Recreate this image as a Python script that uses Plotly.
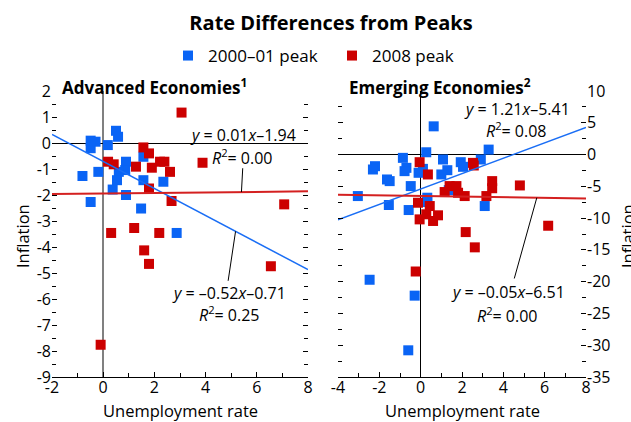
import numpy as np
import plotly.graph_objects as go

# ---------------- data ----------------
adv_2000_x = [-0.49, -0.30, -0.49, 0.18, 0.50, 0.58, -0.81, -0.19, 0.89, 0.86, 0.61, 0.54,
              0.37, 0.89, 1.57, 1.57, 2.35, -0.49, 1.48, 2.87]
adv_2000_y = [0.09, 0.05, -0.20, -0.08, 0.47, 0.24, -1.27, -1.11, -0.72, -1.04, -1.11, -1.43,
              -1.79, -2.00, -0.53, -1.43, -1.49, -2.27, -2.52, -3.46]
adv_2008_x = [1.57, 1.79, 0.19, 0.41, 1.28, 1.90, 2.22, 2.39, 2.61, 1.79, 2.67, 3.06, 3.88,
              7.07, 0.31, 1.21, 2.19, 1.60, 1.79, 6.55, -0.10]
adv_2008_y = [-0.17, -0.40, -0.72, -0.82, -0.91, -0.95, -0.72, -0.72, -1.11, -1.75, -2.23, 1.17,
              -0.76, -2.36, -3.46, -3.27, -3.46, -4.13, -4.65, -4.74, -7.76]

emg_2000_x = [0.27, 3.29, -0.86, 1.08, 1.94, 2.91, -0.69, -0.78, 0.11, -0.10, 1.29, 2.05, 1.00,
              -0.48, 1.36, 0.32, 0.32, 3.10, -0.58, -2.21, -2.31, -1.63, -1.50, -3.04, -1.54,
              0.63, -2.47, -0.29, -0.60]
emg_2000_y = [0.36, 0.78, -0.52, -0.78, -1.20, -0.78, -2.09, -2.61, -2.25, -2.87, -2.46, -1.93,
              -3.13, -4.96, -5.60, -6.79, -7.47, -8.10, -8.73, -1.83, -2.35, -3.92, -4.18,
              -6.53, -7.94, 4.44, -19.70, -22.20, -30.80]
emg_2008_x = [-0.05, 2.53, 2.57, 0.35, 3.46, 3.46, 4.80, 1.40, 1.73, 1.16, 1.81, 2.13, 3.18,
              -0.13, 0.44, 0.27, 0.84, -0.05, 0.60, 6.17, 2.18, 2.62, -0.24]
emg_2008_y = [-1.20, -1.31, -1.72, -3.13, -4.18, -5.30, -4.86, -4.96, -4.96, -5.90, -6.01,
              -6.53, -6.53, -7.58, -8.10, -9.40, -9.56, -10.20, -10.45, -11.20, -12.20,
              -14.60, -18.40]

# regression fits shown on chart: (slope, intercept, R2)
adv_fit_2000 = (-0.52, -0.71, 0.25)
adv_fit_2008 = (0.01, -1.94, 0.00)
emg_fit_2000 = (1.21, -5.41, 0.08)
emg_fit_2008 = (-0.05, -6.51, 0.00)

adv_xrange = [-2, 8]
adv_yrange = [-9, 2]
emg_xrange = [-4, 8]
emg_yrange = [-35, 10]

adv_xticks = [-2, 0, 2, 4, 6, 8]
adv_yticks = list(range(-9, 3))
emg_xticks = [-4, -2, 0, 2, 4, 6, 8]
emg_yticks = list(range(-35, 11, 5))

BLUE = "#0a64f5"
RED = "#cc0000"
FONT = "Open Sans"

W, H = 631, 422
ML, MR, MT, MB = 52, 45, 91, 45
PW = W - ML - MR
PH = H - MT - MB


def px_x(p):
    return (p - ML) / PW


def px_y(p):
    return 1 - (p - MT) / PH


def lab(v):
    return str(v).replace("−", "-")


fig = go.Figure()

# scatter points
fig.add_trace(go.Scatter(x=adv_2000_x, y=adv_2000_y, mode="markers", name="2000–01 peak",
                         legendgroup="a", marker=dict(symbol="square", size=10, color=BLUE),
                         xaxis="x", yaxis="y"))
fig.add_trace(go.Scatter(x=adv_2008_x, y=adv_2008_y, mode="markers", name="2008 peak",
                         legendgroup="b", marker=dict(symbol="square", size=10, color=RED),
                         xaxis="x", yaxis="y"))
fig.add_trace(go.Scatter(x=emg_2000_x, y=emg_2000_y, mode="markers", name="2000–01 peak",
                         legendgroup="a", showlegend=False,
                         marker=dict(symbol="square", size=10, color=BLUE),
                         xaxis="x2", yaxis="y2"))
fig.add_trace(go.Scatter(x=emg_2008_x, y=emg_2008_y, mode="markers", name="2008 peak",
                         legendgroup="b", showlegend=False,
                         marker=dict(symbol="square", size=10, color=RED),
                         xaxis="x2", yaxis="y2"))


def fit_line(fit, xr, color, xa, ya, width):
    xs = np.array(xr, dtype=float)
    ys = fit[0] * xs + fit[1]
    fig.add_trace(go.Scatter(x=xs, y=ys, mode="lines", showlegend=False, hoverinfo="skip",
                             line=dict(color=color, width=width), xaxis=xa, yaxis=ya))


fit_line(adv_fit_2000, adv_xrange, "#1a6ef5", "x", "y", 1.5)
fit_line(adv_fit_2008, adv_xrange, "#d42020", "x", "y", 2)
fit_line(emg_fit_2000, emg_xrange, "#1a6ef5", "x2", "y2", 1.5)
fit_line(emg_fit_2008, emg_xrange, "#d42020", "x2", "y2", 2)


def eq_text(fit):
    s = f"{fit[0]:.2f}".replace("-", "–")
    b = f"{fit[1]:.2f}".replace("-", "–")
    return f"<i>y</i> = {s}<i>x</i>{b}"


def r2_text(fit):
    return f"<i>R</i><sup>2</sup>= {fit[2]:.2f}"


ann_font = dict(family=FONT, size=16, color="black")
annotations = []


def add_label(fit, xa, ya, xc, y_eq, y_r2):
    annotations.append(dict(text=eq_text(fit), x=xc, y=y_eq, xref=xa, yref=ya,
                            showarrow=False, font=ann_font, xanchor="center", yanchor="middle"))
    annotations.append(dict(text=r2_text(fit), x=xc, y=y_r2, xref=xa, yref=ya,
                            showarrow=False, font=ann_font, xanchor="center", yanchor="middle"))


add_label(adv_fit_2008, "x", "y", 5.45, 0.31, -0.54)
add_label(adv_fit_2000, "x", "y", 4.93, -5.75, -6.56)
add_label(emg_fit_2000, "x2", "y2", 4.65, 7.2, 3.9)
add_label(emg_fit_2008, "x2", "y2", 4.21, -21.6, -25.2)

shapes = []


def leader(fit, xa, ya, x_on, x_end, y_end):
    shapes.append(dict(type="line", xref=xa, yref=ya, x0=x_on, y0=fit[0] * x_on + fit[1],
                       x1=x_end, y1=y_end, line=dict(color="black", width=1)))


leader(adv_fit_2008, "x", "y", 5.40, 5.45, -0.97)
leader(adv_fit_2000, "x", "y", 5.17, 4.88, -5.30)
leader(emg_fit_2008, "x2", "y2", 5.62, 4.53, -19.5)

# panel titles
title_font = dict(family=FONT, size=17, color="black")
annotations.append(dict(text="<b>Advanced Economies<sup>1</sup></b>", x=px_x(60), y=px_y(86),
                        xref="paper", yref="paper", xanchor="left", yanchor="middle",
                        showarrow=False, font=title_font))
annotations.append(dict(text="<b>Emerging Economies<sup>2</sup></b>", x=px_x(347), y=px_y(86),
                        xref="paper", yref="paper", xanchor="left", yanchor="middle",
                        showarrow=False, font=title_font))
# y-axis titles
axis_font = dict(family=FONT, size=16.5, color="black")
annotations.append(dict(text="Inflation", x=px_x(22), y=px_y(236), xref="paper", yref="paper",
                        textangle=-90, showarrow=False, xanchor="center", yanchor="middle",
                        font=axis_font))
annotations.append(dict(text="Inflation", x=px_x(627), y=px_y(236), xref="paper", yref="paper",
                        textangle=-90, showarrow=False, xanchor="center", yanchor="middle",
                        font=axis_font))
# x-axis titles
annotations.append(dict(text="Unemployment rate", x=px_x(180), y=px_y(410), xref="paper",
                        yref="paper", showarrow=False, xanchor="center", yanchor="middle",
                        font=axis_font))
annotations.append(dict(text="Unemployment rate", x=px_x(462), y=px_y(410), xref="paper",
                        yref="paper", showarrow=False, xanchor="center", yanchor="middle",
                        font=axis_font))

tick_font = dict(family=FONT, size=16, color="black")
common_x = dict(showgrid=False, showline=True, linecolor="black", linewidth=1,
                ticks="inside", ticklen=5, tickcolor="black", tickfont=tick_font,
                zeroline=True, ticklabelstandoff=-4,
                minor=dict(dtick=1, ticks="inside", ticklen=4, tickcolor="black"),
                fixedrange=True)
common_y = dict(showgrid=False, showline=False, ticks="inside", ticklen=5, tickcolor="black",
                tickfont=tick_font, zeroline=True, zerolinecolor="black", zerolinewidth=1,
                mirror="ticks", fixedrange=True)

fig.update_layout(
    width=W, height=H,
    margin=dict(l=ML, r=MR, t=MT, b=MB),
    paper_bgcolor="white", plot_bgcolor="white",
    font=dict(family=FONT, color="black"),
    title=dict(text="<b>Rate Differences from Peaks</b>", x=331 / W, xref="container",
               y=1 - 23 / H, yref="container",
               yanchor="middle", xanchor="center", font=dict(family=FONT, size=20, color="black")),
    showlegend=True,
    legend=dict(orientation="h", x=px_x(168), y=px_y(56), xanchor="left", yanchor="middle",
                font=dict(family=FONT, size=17, color="black"), itemwidth=30,
                entrywidth=119, bgcolor="rgba(0,0,0,0)"),
    xaxis=dict(common_x, domain=[0, px_x(308)], range=adv_xrange, anchor="y",
               tickvals=adv_xticks, ticktext=[lab(v) for v in adv_xticks],
               zerolinecolor="#808080", zerolinewidth=2),
    yaxis=dict(common_y, domain=[0, 1], range=adv_yrange, anchor="x",
               tickvals=adv_yticks, ticktext=[lab(v) for v in adv_yticks],
               minor=dict(dtick=0.5, ticks="inside", ticklen=4, tickcolor="black")),
    xaxis2=dict(common_x, domain=[px_x(338), 1], range=emg_xrange, anchor="y2",
                tickvals=emg_xticks, ticktext=[lab(v) for v in emg_xticks],
                zerolinecolor="black", zerolinewidth=1),
    yaxis2=dict(common_y, domain=[0, 1], range=emg_yrange, anchor="x2", side="right",
                tickvals=emg_yticks, ticktext=[lab(v) for v in emg_yticks],
                minor=dict(dtick=2.5, ticks="inside", ticklen=4, tickcolor="black")),
    annotations=annotations,
    shapes=shapes,
)

fig.write_html("out.html", config={"displayModeBar": False},
               post_script="document.body.style.margin='0';document.body.style.overflow='hidden';")
